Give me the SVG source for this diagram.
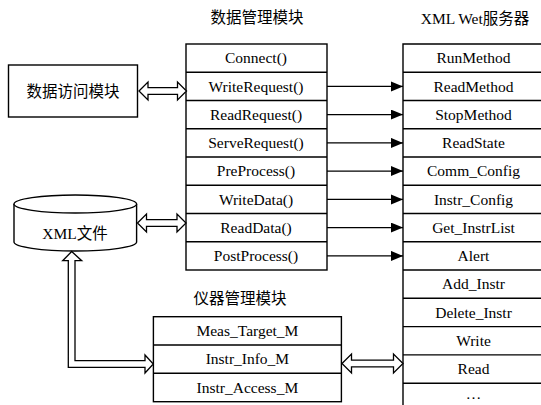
<svg xmlns="http://www.w3.org/2000/svg" width="541" height="405" viewBox="0 0 541 405">
<style>
.box{fill:#fff;stroke:#000;stroke-width:1.4}
.ln{stroke:#000;stroke-width:1.4;fill:none}
.t{font-family:"Liberation Serif","Times New Roman",serif;font-size:15.5px;text-anchor:middle;fill:#000}
.c{font-family:"Liberation Serif","Noto Sans CJK SC",serif;font-size:15.5px;text-anchor:middle;fill:#000}
.hol{fill:#fff;stroke:#000;stroke-width:1.3;stroke-linejoin:miter}
.arr{stroke:#000;stroke-width:1.4;fill:none;marker-end:url(#ah)}
</style>
<defs>
<marker id="ah" markerUnits="userSpaceOnUse" markerWidth="13" markerHeight="11" refX="12" refY="5" orient="auto">
<path d="M0,0 L12,5 L0,10 Z" fill="#000"/>
</marker>
</defs>
<rect width="541" height="405" fill="#fff"/>

<g id="title-data-mgmt"><text class="c" x="257" y="23">数据管理模块</text></g>
<g id="title-server"><text class="c" x="475" y="24">XML Wet服务器</text></g>
<g id="title-instr-mgmt"><text class="c" x="240" y="303.5">仪器管理模块</text></g>

<g id="data-access">
<rect class="box" x="8.5" y="65" width="129" height="52"/>
<text class="c" x="73" y="96.5">数据访问模块</text>
</g>

<g id="xml-file">
<path class="box" d="M14,204 V242 A61.3,9 0 0 0 136.6,242 V204"/>
<ellipse class="box" cx="75.3" cy="204" rx="61.3" ry="9"/>
<text class="c" x="75" y="239">XML文件</text>
</g>

<g id="data-mgmt">
<rect class="box" x="186" y="44" width="141" height="226"/>
<path class="ln" d="M186,72.25H327M186,100.5H327M186,128.75H327M186,157H327M186,185.25H327M186,213.5H327M186,241.75H327"/>
<text class="t" x="256" y="63.3">Connect()</text>
<text class="t" x="256" y="91.6">WriteRequest()</text>
<text class="t" x="256" y="119.8">ReadRequest()</text>
<text class="t" x="256" y="148.1">ServeRequest()</text>
<text class="t" x="256" y="176.3">PreProcess()</text>
<text class="t" x="256" y="204.6">WriteData()</text>
<text class="t" x="256" y="232.8">ReadData()</text>
<text class="t" x="256" y="261.1">PostProcess()</text>
</g>

<g id="server">
<path class="ln" d="M545,44H403V410"/>
<path class="ln" d="M403,72.25H545M403,100.5H545M403,128.75H545M403,157H545M403,185.25H545M403,213.5H545M403,241.75H545M403,270H545M403,298.3H545M403,326.6H545M403,354.9H545M403,383.2H545"/>
<text class="t" x="473.5" y="63.3">RunMethod</text>
<text class="t" x="473.5" y="91.6">ReadMethod</text>
<text class="t" x="473.5" y="119.8">StopMethod</text>
<text class="t" x="473.5" y="148.1">ReadState</text>
<text class="t" x="473.5" y="176.3">Comm_Config</text>
<text class="t" x="473.5" y="204.6">Instr_Config</text>
<text class="t" x="473.5" y="232.8">Get_InstrList</text>
<text class="t" x="473.5" y="261.1">Alert</text>
<text class="t" x="473.5" y="289.4">Add_Instr</text>
<text class="t" x="473.5" y="317.7">Delete_Instr</text>
<text class="t" x="473.5" y="346">Write</text>
<text class="t" x="473.5" y="374.3">Read</text>
<text class="t" x="473.5" y="399">…</text>
</g>

<g id="instr-mgmt">
<rect class="box" x="153.4" y="316.7" width="188" height="85"/>
<path class="ln" d="M153.4,345H341.4M153.4,373.3H341.4"/>
<text class="t" x="247.4" y="336">Meas_Target_M</text>
<text class="t" x="247.4" y="364.3">Instr_Info_M</text>
<text class="t" x="247.4" y="392.6">Instr_Access_M</text>
</g>

<g id="connectors">
<path class="arr" d="M327,86.4H403"/>
<path class="arr" d="M327,114.6H403"/>
<path class="arr" d="M327,142.9H403"/>
<path class="arr" d="M327,171.1H403"/>
<path class="arr" d="M327,199.4H403"/>
<path class="arr" d="M327,227.6H403"/>
<path class="arr" d="M327,255.9H403"/>
<path class="hol" d="M139,91 L148,82 L148,87.7 L177.5,87.7 L177.5,82 L186.5,91 L177.5,100 L177.5,94.3 L148,94.3 L148,100 Z"/>
<path class="hol" d="M137.5,223 L146.5,214 L146.5,219.7 L177,219.7 L177,214 L186,223 L177,232 L177,226.3 L146.5,226.3 L146.5,232 Z"/>
<path class="hol" d="M342,363.5 L351.5,354 L351.5,360.2 L393.5,360.2 L393.5,354 L403,363.5 L393.5,373 L393.5,366.8 L351.5,366.8 L351.5,373 Z"/>
<path class="hol" d="M71.7,251.5 L81.7,260.7 L75,260.7 L75,360.7 L145,360.7 L145,355 L153.3,364 L145,373 L145,367.3 L68.3,367.3 L68.3,260.7 L62.7,260.7 Z"/>
</g>
</svg>
